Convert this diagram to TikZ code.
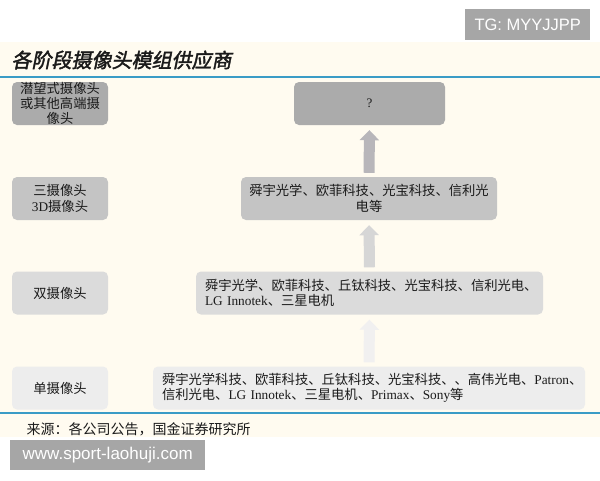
\documentclass[tikz,border=0pt]{standalone}
\usepackage{fontspec}
\setmainfont{Liberation Serif}
\newfontfamily\cjk{Noto Sans CJK SC}
\newfontfamily\cjktitle[FakeSlant=0.2,FakeBold=2]{Noto Sans CJK SC}
\newfontfamily\wm{Liberation Sans}
\usetikzlibrary{arrows.meta}
\definecolor{cream}{HTML}{FFFBF0}
\definecolor{g1}{HTML}{ABABAB}
\definecolor{g2}{HTML}{C4C4C4}
\definecolor{g3}{HTML}{DBDBDB}
\definecolor{g4}{HTML}{EDEDED}
\definecolor{a1}{HTML}{B8B6BA}
\definecolor{a2}{HTML}{D6D6D6}
\definecolor{a3}{HTML}{F1F0F0}
\definecolor{blueline}{HTML}{3A9CC6}
\definecolor{wmgray}{HTML}{A6A6A6}
\definecolor{ink}{HTML}{1A1A1A}
\tikzset{
  box/.style={rounded corners=5pt, inner xsep=9pt, inner ysep=0pt, minimum height=43pt,
    text=ink, font=\cjk\fontsize{13.3}{15.5}\selectfont},
  lbox/.style={box, inner xsep=0pt, minimum width=96pt, align=center},
  upar/.style={line width=11pt, -{Triangle[width=19pt,length=10pt]}},
  wmbox/.style={fill=wmgray, text=white, inner sep=0pt, anchor=north west, font=\wm\fontsize{16.5}{18}\selectfont}
}
\begin{document}
\begin{tikzpicture}[x=1pt,y=-1pt]
\useasboundingbox (0,0) rectangle (600,480);
\fill[white] (0,0) rectangle (600,480);
\fill[cream] (0,42) rectangle (600,437);
\draw[blueline, line width=2.5pt] (0,77) -- (600,77);
\draw[blueline, line width=2.5pt] (0,413) -- (600,413);
\node[anchor=west, text=ink, font=\cjktitle\fontsize{20}{20}\selectfont] (title) at (8,60) {各阶段摄像头模组供应商};
\node[anchor=west, text=ink, font=\cjk\fontsize{14}{14}\selectfont] (src) at (23,429) {来源：各公司公告，国金证券研究所};
% left boxes
\node[lbox, fill=g1, font=\cjk\fontsize{13.3}{15}\selectfont] (l1) at (60,103.5) {潜望式摄像头\\或其他高端摄\\像头};
\node[lbox, fill=g2] (l2) at (60,198.5) {三摄像头\\\rmfamily 3D{\cjk 摄像头}};
\node[lbox, fill=g3] (l3) at (60,293) {双摄像头};
\node[lbox, fill=g4] (l4) at (60,388) {单摄像头};
% right boxes
\node[box, fill=g1, inner xsep=0pt, minimum width=151pt, font=\rmfamily\fontsize{13}{15}\selectfont] (r1) at (369.5,103.5) {?};
\node[box, fill=g2, inner xsep=0pt, minimum width=256pt, align=center] (r2) at (369,198.5) {舜宇光学、欧菲科技、光宝科技、信利光\\电等};
\node[box, fill=g3, text width=329pt, align=left] (r3) at (369.5,293) {舜宇光学、欧菲科技、丘钛科技、光宝科技、信利光电、\\{\rmfamily LG Innotek}、三星电机};
\node[box, fill=g4, text width=414pt, align=left] (r4) at (369,388) {舜宇光学科技、欧菲科技、丘钛科技、光宝科技、、高伟光电、{\rmfamily Patron}、\\信利光电、{\rmfamily LG Innotek}、三星电机、{\rmfamily Primax}、{\rmfamily Sony}等};
% arrows
\draw[upar, a1] ([yshift=4pt]r2.north) -- ([yshift=-5pt]r1.south);
\draw[upar, a2] ([yshift=4pt]r3.north) -- ([yshift=-5pt]r2.south);
\draw[upar, a3] ([yshift=4pt]r4.north) -- ([yshift=-5pt]r3.south);
% watermarks
\node[wmbox, minimum width=125pt, minimum height=31pt] (tg) at (465,9) {TG: MYYJJPP};
\node[wmbox, minimum width=195pt, minimum height=30pt, font=\wm\fontsize{17}{18}\selectfont] (www) at (10,440) {www.sport-laohuji.com};
\end{tikzpicture}
\end{document}
